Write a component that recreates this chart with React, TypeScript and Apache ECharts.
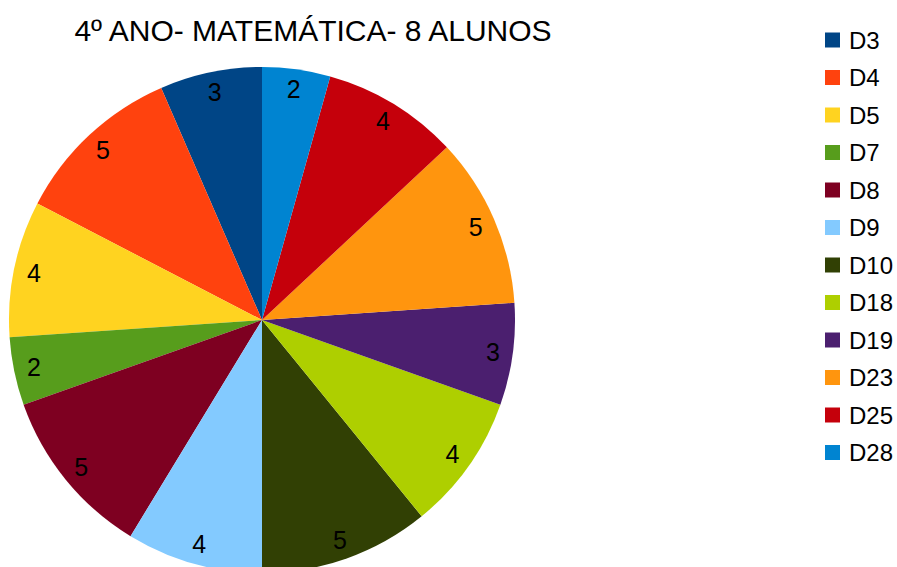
import React, { useEffect, useRef } from "react";
import * as echarts from "echarts";

const categories = ["D3", "D4", "D5", "D7", "D8", "D9", "D10", "D18", "D19", "D23", "D25", "D28"];
const values = [3, 5, 4, 2, 5, 4, 5, 4, 3, 5, 4, 2];
const colors = [
  "#004586", "#ff420e", "#ffd320", "#579d1c", "#7e0021", "#83caff",
  "#314004", "#aecf00", "#4b1f6f", "#ff950e", "#c5000b", "#0084d1",
];
const titleText = "4º ANO- MATEMÁTICA- 8 ALUNOS";
const FONT = "'Liberation Sans', Arial, sans-serif";

export default function App() {
  const ref = useRef<HTMLDivElement>(null);
  useEffect(() => {
    if (!ref.current) return;
    const chart = echarts.init(ref.current, undefined, { renderer: "svg" });
    const data = categories.map((c, i) => ({ name: c, value: values[i] }));
    chart.setOption({
      animation: false,
      color: colors,
      title: {
        text: titleText,
        left: 308,
        top: 10,
        textAlign: "center",
        textStyle: { fontFamily: FONT, fontSize: 30, fontWeight: "normal", color: "#000" },
      },
      legend: {
        orient: "vertical",
        left: 825,
        top: 28,
        padding: 0,
        icon: "rect",
        itemWidth: 15,
        itemHeight: 15,
        itemGap: 13.5,
        textStyle: { fontFamily: FONT, fontSize: 24, lineHeight: 24, color: "#000", padding: [0, 0, 0, 4] },
        data: categories,
      },
      series: [
        {
          type: "pie",
          center: [262, 320],
          radius: [0, 253],
          startAngle: 90,
          clockwise: false,
          silent: true,
          label: { show: false },
          labelLine: { show: false },
          itemStyle: { borderWidth: 0 },
          data,
        },
        {
          type: "pie",
          center: [262, 320],
          radius: [207, 253],
          startAngle: 90,
          clockwise: false,
          silent: true,
          itemStyle: { color: "rgba(0,0,0,0)", borderWidth: 0 },
          label: {
            show: true,
            position: "inside",
            formatter: "{c}",
            fontFamily: FONT,
            fontSize: 25,
            color: "#000",
          },
          labelLine: { show: false },
          data,
        },
      ],
    });
    return () => chart.dispose();
  }, []);
  return (
    <div
      ref={ref}
      style={{ position: "fixed", left: 0, top: 0, width: 897, height: 567, background: "#fff" }}
    />
  );
}
